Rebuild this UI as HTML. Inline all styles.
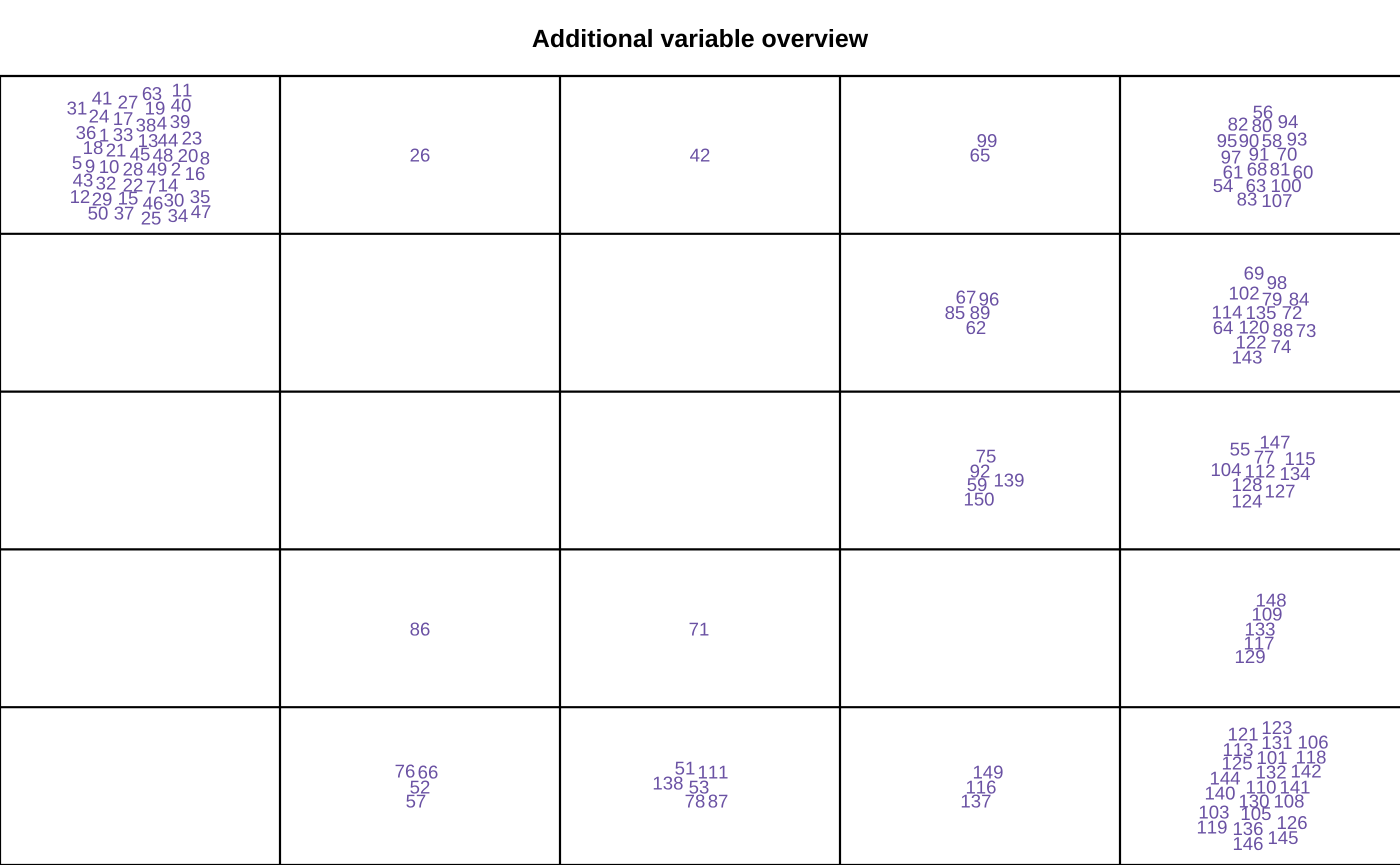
<!DOCTYPE html>
<html lang="en">
<head>
<meta charset="utf-8">
<title>Additional variable overview</title>
<style>
  html, body { margin: 0; padding: 0; background: #ffffff; }
  #chart { display: block; width: 1400px; height: 865px; overflow: hidden; }
  text { font-family: "Liberation Sans", sans-serif; text-rendering: geometricPrecision; font-kerning: none; }
  #title { font-kerning: normal; }
</style>
</head>
<body>
<svg id="chart" xmlns="http://www.w3.org/2000/svg" width="1400" height="865" viewBox="0 0 1400 865">
  <rect x="0" y="0" width="1400" height="865" fill="#ffffff"></rect>
  <text id="title" x="700" y="47" text-anchor="middle" font-size="24.9" font-weight="bold" fill="#000000">Additional variable overview</text>
  <g id="grid"></g>
  <g id="labels"></g>
</svg>
<script>
const xBreaks = [0, 20, 40, 60, 80];
const yBreaks = [0, 20, 40, 60, 80, 100];

const pointIds = [
  31,41,27,6,3,11,19,40,24,17,38,4,39,36,1,33,13,44,23,18,21,45,48,20,8,5,9,10,28,49,2,16,43,32,22,7,14,12,29,15,46,30,35,50,37,25,34,47,
  26,42,99,65,
  56,82,80,94,95,90,58,93,97,91,70,61,68,81,60,54,63,100,83,107,
  67,96,85,89,62,
  69,98,102,79,84,114,135,72,64,120,88,73,122,74,143,
  75,92,139,59,150,
  147,55,77,115,104,112,134,128,127,124,
  86,71,148,109,133,117,129,
  76,66,52,57,51,111,138,53,78,87,149,116,137,
  123,121,131,106,113,101,118,125,132,142,144,110,141,140,130,108,103,105,126,119,136,145,146
];

const pointX = [
  5.5,7.29,9.14,10.5,11.21,13,11.07,12.93,7.07,8.79,10.43,11.57,12.86,6.14,7.43,8.79,10.57,12,13.71,6.64,8.29,10,11.64,13.43,14.64,5.5,6.43,7.79,9.5,11.21,12.57,13.93,5.93,7.57,9.5,10.79,12,5.71,7.29,9.14,10.93,12.43,14.29,7,8.86,10.79,12.71,14.36,
  30,50,70.5,70,
  90.21,88.43,90.14,92,87.64,89.21,90.86,92.64,87.93,89.93,91.93,88.07,89.79,91.43,93.07,87.36,89.71,91.86,89.07,91.21,
  69,70.64,68.21,70,69.71,
  89.57,91.21,88.86,90.86,92.79,87.64,90.07,92.29,87.36,89.57,91.64,93.29,89.36,91.5,89.07,
  70.43,70,72.07,69.79,69.93,
  91.07,88.57,90.29,92.86,87.57,90,92.5,89.07,91.43,89.07,
  30,49.93,90.79,90.5,90,89.93,89.29,
  28.93,30.57,30,29.71,48.93,50.93,47.71,49.93,49.64,51.29,70.57,70.07,69.71,
  91.21,88.79,91.21,93.79,88.43,90.86,93.64,88.36,90.79,93.29,87.5,90.07,92.5,87.14,89.57,92.07,86.71,89.71,92.29,86.57,89.14,91.64,89.14
];

const pointY = [
  95.9,97.2,96.7,97.8,97.8,98.2,95.9,96.3,94.9,94.6,93.8,94,94.2,92.8,92.5,92.6,91.8,91.9,92.1,90.9,90.6,90.1,90,89.9,89.6,89,88.6,88.5,88.2,88.2,88.2,87.6,86.8,86.4,86.2,85.9,86.2,84.7,84.4,84.5,83.9,84.3,84.7,82.6,82.6,82,82.3,82.8,
  90,90,91.8,90,
  95.4,93.9,93.7,94.2,91.8,91.8,91.8,92,89.7,90.1,90.1,87.8,88.2,88.2,87.8,86.1,86.1,86.1,84.4,84.2,
  72,71.7,70,70,68.1,
  75,73.8,72.5,71.7,71.7,70.1,70,70,68.1,68.2,67.8,67.7,66.3,65.7,64.4,
  51.8,49.9,48.8,48.2,46.4,
  53.6,52.7,51.7,51.5,50.1,49.9,49.6,48.2,47.4,46.1,
  29.9,29.9,33.6,31.8,29.9,28.1,26.4,
  11.9,11.8,9.9,8.1,12.3,11.8,10.4,9.9,8.1,8.1,11.8,9.9,8.1,
  17.4,16.6,15.5,15.6,14.6,13.6,13.7,12.9,11.8,11.9,11,9.9,9.9,9.1,8.1,8.1,6.7,6.5,5.4,4.8,4.6,3.5,2.7
];

const plot = { left: 0, right: 1400, top: 76, bottom: 865 };
const labelColor = "#6a51a3";
const svgNS = "http://www.w3.org/2000/svg";

function xScale(v) {
  return plot.left + (v / 100) * (plot.right - plot.left);
}
function yScale(v) {
  return plot.bottom - (v / 100) * (plot.bottom - plot.top);
}

const gridGroup = document.getElementById("grid");
const labelGroup = document.getElementById("labels");

function drawLine(x1, y1, x2, y2, name) {
  const line = document.createElementNS(svgNS, "line");
  line.setAttribute("x1", x1);
  line.setAttribute("y1", y1);
  line.setAttribute("x2", x2);
  line.setAttribute("y2", y2);
  line.setAttribute("stroke", "#000000");
  line.setAttribute("stroke-width", "2.2");
  
  
  gridGroup.appendChild(line);
}

xBreaks.forEach(function (b) {
  drawLine(xScale(b), plot.top, xScale(b), plot.bottom, "grid-column-line");
});
yBreaks.forEach(function (b) {
  drawLine(plot.left, yScale(b), plot.right, yScale(b), "grid-row-line");
});

pointIds.forEach(function (id, i) {
  const t = document.createElementNS(svgNS, "text");
  t.setAttribute("x", xScale(pointX[i]));
  t.setAttribute("y", yScale(pointY[i]) + 6.4);
  t.setAttribute("text-anchor", "middle");
  t.setAttribute("font-size", "18.6");
  t.setAttribute("fill", labelColor);
  
  
  t.textContent = id;
  labelGroup.appendChild(t);
});
</script>
</body>
</html>
